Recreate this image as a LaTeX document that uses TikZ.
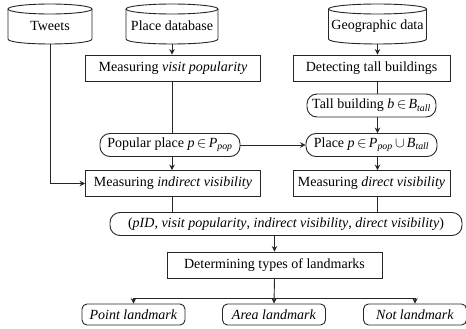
\documentclass[tikz,border=0pt]{standalone}
\usepackage{fontspec}
\setmainfont{Liberation Serif}
\usetikzlibrary{arrows.meta}
\newcommand{\cylbody}[5]{% cx, top, bottom, halfwidth, ry
  \draw[line] (#1,#2+#5) ellipse [x radius=#4, y radius=#5];
  \draw[line] (#1-#4,#2+#5) -- (#1-#4,#3)
     .. controls (#1-#4,#3+1.33*#5) and (#1+#4,#3+1.33*#5) .. (#1+#4,#3)
     -- (#1+#4,#2+#5);
}
\begin{document}
\begin{tikzpicture}[x=1pt,y=-1pt,font=\fontsize{14}{16}\selectfont,
  line/.style={draw=black!85,line width=0.9pt},
  arr/.style={line,-{Stealth[length=5.5pt,width=5.5pt]}},
  rect/.style={draw=black!85,line width=0.9pt,rectangle,inner sep=0pt,minimum height=26pt},
  pill/.style={draw=black!85,line width=0.9pt,rectangle,rounded corners=10pt,inner sep=0pt,minimum height=23pt},
  leaf/.style={draw=black!85,line width=0.9pt,rectangle,rounded corners=5pt,inner sep=0pt,minimum height=21pt,minimum width=103pt},
  txt/.style={inner sep=0pt}]
\useasboundingbox (0,0) rectangle (466,329);
% cylinders
\cylbody{50}{4}{39}{42}{5}
\cylbody{172}{4}{39}{46}{5}
\cylbody{377.5}{4}{39}{49}{5}
\node[txt,minimum width=84pt,minimum height=36pt] (tw) at (50,26) {Tweets};
\node[txt,minimum width=92pt,minimum height=36pt] (pd) at (172,26) {Place database};
\node[txt,minimum width=98pt,minimum height=36pt] (gd) at (377.5,26) {Geographic data};
% boxes
\node[rect,minimum width=175pt] (mvp) at (173,68) {Measuring \textit{visit popularity}};
\node[rect,minimum width=157pt] (dtb) at (371.5,68) {Detecting tall buildings};
\node[pill,minimum width=129pt] (tb) at (371.5,105.5) {Tall building \textit{b}\,$\in$\,\textit{B}\textsubscript{\textit{tall}}};
\node[pill,minimum width=140pt] (pp) at (170,145) {Popular place \textit{p}\,$\in$\,\textit{P}\textsubscript{\textit{pop}}};
\node[pill,minimum width=131pt] (pl) at (371.5,145) {Place \textit{p}\,$\in$\,\textit{P}\textsubscript{\textit{pop}}\,$\cup$\,\textit{B}\textsubscript{\textit{tall}}};
\node[rect,minimum width=175pt] (miv) at (173,183.5) {Measuring \textit{indirect visibility}};
\node[rect,minimum width=157pt] (mdv) at (371.5,183.5) {Measuring \textit{direct visibility}};
\node[pill,minimum width=352pt] (tup) at (286,224) {(\textit{pID}, \textit{visit popularity}, \textit{indirect visibility}, \textit{direct visibility})};
\node[rect,minimum width=215pt] (det) at (274.5,265) {Determining types of landmarks};
\node[leaf] (pt) at (133.5,314.5) {\textit{Point landmark}};
\node[leaf] (ar) at (274,314.5) {\textit{Area landmark}};
\node[leaf] (nl) at (415,314.5) {\textit{Not landmark}};
\coordinate (br) at (274,298);
% connectors
\draw[arr] (tw.south) |- (miv.west);
\draw[arr] (pd.south) -- (pd.south |- mvp.north);
\draw[line] (pd.south |- mvp.south) -- (pd.south |- pp.north);
\draw[arr] (pd.south |- pp.south) -- (pd.south |- miv.north);
\draw[arr] (pp.east) -- (pl.west);
\draw[arr] (gd.south) -- (gd.south |- dtb.north);
\draw[line] (gd.south |- dtb.south) -- (gd.south |- tb.north);
\draw[arr] (gd.south |- tb.south) -- (gd.south |- pl.north);
\draw[arr] (gd.south |- pl.south) -- (gd.south |- mdv.north);
\draw[line] (pd.south |- miv.south) -- (pd.south |- tup.north);
\draw[line] (gd.south |- mdv.south) -- (gd.south |- tup.north);
\draw[arr] (det.south |- tup.south) -- (det.north);
\draw[arr] (det.south) -- (ar.north);
\draw[arr] (br -| pt.north) -- (pt.north);
\draw[arr] (br -| nl.north) -- (nl.north);
\draw[line] (br -| pt.north) -- (br -| nl.north);
\end{tikzpicture}
\end{document}
